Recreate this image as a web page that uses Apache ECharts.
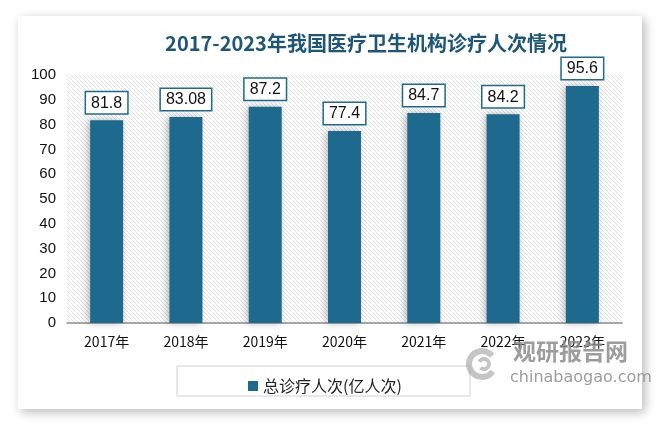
<!DOCTYPE html>
<html>
<head>
<meta charset="utf-8">
<script src="https://cdn.jsdelivr.net/npm/echarts@6/dist/echarts.min.js"></script>
<style>
html,body{margin:0;padding:0;background:#ffffff;}
#main{width:659px;height:424px;}
</style>
</head>
<body>
<div id="main"></div>
<script>
const categories = ['2017年','2018年','2019年','2020年','2021年','2022年','2023年'];
const visits = [81.8, 83.08, 87.2, 77.4, 84.7, 84.2, 95.6];
const seriesName = '总诊疗人次(亿人次)';
const titleText = '2017-2023年我国医疗卫生机构诊疗人次情况';

function hatch() {
  const c = document.createElement('canvas');
  c.width = 4; c.height = 4;
  const g = c.getContext('2d');
  g.fillStyle = '#ffffff';
  g.fillRect(0, 0, 4, 4);
  g.strokeStyle = '#e2e2e2';
  g.lineWidth = 1;
  g.beginPath();
  g.moveTo(-1, -1); g.lineTo(5, 5);
  g.moveTo(-1, 3); g.lineTo(1, 5);
  g.moveTo(3, -1); g.lineTo(5, 1);
  g.stroke();
  return c;
}

const chart = echarts.init(document.getElementById('main'), null, {renderer: 'canvas'});
const cjk = '"Noto Sans CJK SC", "Liberation Sans", sans-serif';
const barColor = '#1d6a8e';

chart.setOption({
  backgroundColor: '#ffffff',
  animation: false,
  graphic: [
    {type: 'rect', z: -10, shape: {x: 18, y: 16, width: 624, height: 393},
     style: {fill: '#ffffff', shadowBlur: 10, shadowColor: 'rgba(0,0,0,0.28)', shadowOffsetX: 3, shadowOffsetY: 3}},
    {type: 'rect', z: 1, shape: {x: 177, y: 366, width: 293, height: 30},
     style: {fill: 'none', stroke: '#d0d0d0', lineWidth: 1}},
    {type: 'arc', z: 5, shape: {cx: 482, cy: 364, r: 13, startAngle: 0.6, endAngle: 5.6},
     style: {stroke: 'rgba(150,150,150,0.55)', lineWidth: 6, fill: 'none'}},
    {type: 'arc', z: 5, shape: {cx: 484, cy: 364, r: 5, startAngle: 3.6, endAngle: 8.6},
     style: {stroke: 'rgba(150,150,150,0.55)', lineWidth: 4, fill: 'none'}},
    {type: 'text', z: 5, left: 513, top: 340,
     style: {text: '观研报告网', fill: 'rgba(140,140,140,0.85)', font: 'bold 23px "Noto Sans CJK SC"'}},
    {type: 'text', z: 5, left: 510, top: 370,
     style: {text: 'chinabaogao.com', fill: 'rgba(140,140,140,0.85)', font: '16px "DejaVu Sans"'}}
  ],
  title: {
    text: titleText,
    left: 361, top: 28, textAlign: 'center',
    textStyle: {color: '#1e5775', fontSize: 20, fontWeight: 'bold', fontFamily: cjk}
  },
  legend: {
    data: [seriesName],
    left: 243, top: 373,
    itemWidth: 10, itemHeight: 10, itemGap: 7,
    icon: 'rect',
    textStyle: {color: '#222', fontSize: 16, fontFamily: cjk}
  },
  grid: {
    left: 67, right: 37, top: 75, bottom: 101,
    show: true, borderWidth: 0,
    backgroundColor: {image: hatch(), repeat: 'repeat'}
  },
  xAxis: {
    type: 'category',
    data: categories,
    axisLine: {lineStyle: {color: '#8c8c8c', width: 1.5}},
    axisTick: {show: false},
    axisLabel: {color: '#111', fontSize: 14, margin: 12, fontFamily: cjk}
  },
  yAxis: {
    type: 'value',
    min: 0, max: 100, interval: 10,
    axisLine: {show: false},
    axisTick: {show: false},
    splitLine: {show: false},
    axisLabel: {color: '#111', fontSize: 15, margin: 11, fontFamily: '"Liberation Sans", sans-serif'}
  },
  series: [{
    name: seriesName,
    type: 'bar',
    data: visits,
    barWidth: 33,
    itemStyle: {color: barColor, shadowColor: 'rgba(0,0,0,0.28)', shadowBlur: 8, shadowOffsetX: -2},
    label: {
      show: true, position: 'top', distance: 7,
      color: '#111', fontSize: 16, fontFamily: '"Liberation Sans", sans-serif',
      backgroundColor: '#ffffff', borderColor: barColor, borderWidth: 1.5,
      padding: [3, 5, 2, 5]
    }
  }]
});
</script>
</body>
</html>
